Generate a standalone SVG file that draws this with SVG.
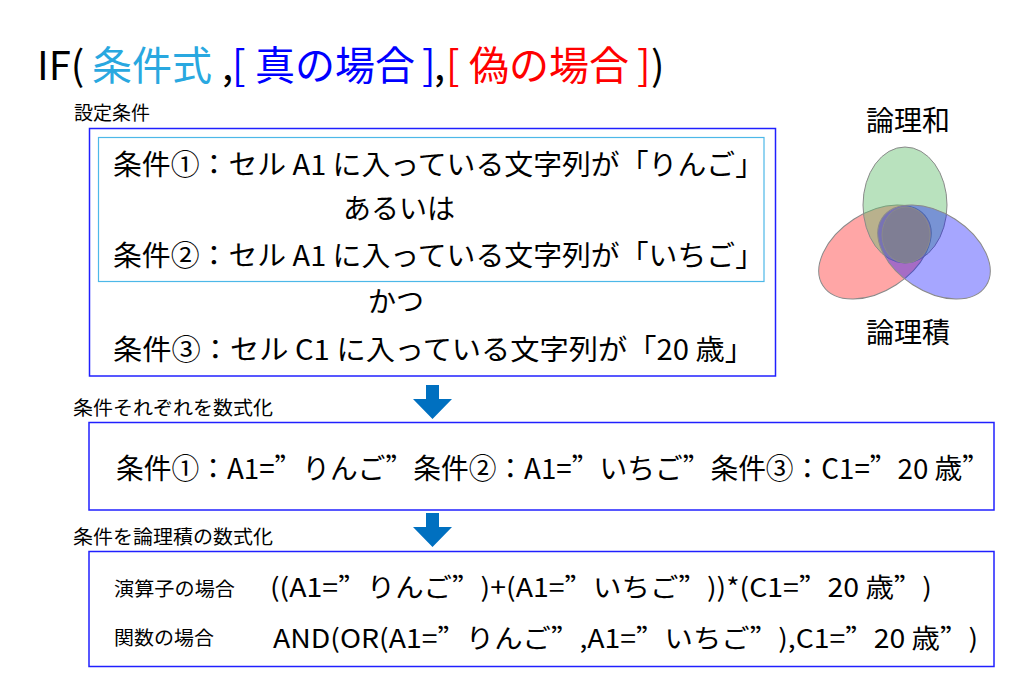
<svg xmlns="http://www.w3.org/2000/svg" width="1024" height="685" viewBox="0 0 1024 685">
<style>
text{font-family:"Noto Sans CJK JP","Noto Sans",sans-serif;fill:#000}
.t{font-size:40px}
.m{font-size:28px}
.s{font-size:19px}
.f{font-size:26px}
.q{font-feature-settings:"fwid" 1}
.box{fill:#fff;stroke:#2020ff;stroke-width:1.5}
.arrow{fill:#0070c0}
.cyan{fill:#29a8e0}
.blue{fill:#0000ff}
.red{fill:#ff0000}
.venn{stroke:#8a8a8a;stroke-width:1}
</style>
<rect width="1024" height="685" fill="#fff"/>
<g id="title">
<text class="t" y="80"><tspan x="37">IF(</tspan><tspan x="92" class="cyan">条件式</tspan><tspan x="222">,</tspan><tspan x="232" class="blue">[</tspan><tspan x="255" class="blue">真の場合</tspan><tspan x="422" class="blue">]</tspan><tspan x="434">,</tspan><tspan x="446" class="red">[</tspan><tspan x="469" class="red">偽の場合</tspan><tspan x="637" class="red">]</tspan><tspan x="651">)</tspan></text>
</g>
<g id="conditions">
<text class="s" x="74" y="120">設定条件</text>
<rect class="box" x="89.5" y="128.5" width="686" height="247.5" stroke="#7a7aff"/>
<rect x="98.5" y="137.5" width="665.5" height="144" fill="none" stroke="#4db8e8" stroke-width="1.2"/>
<text class="m" x="113" y="175" textLength="651" lengthAdjust="spacingAndGlyphs">条件①：セル A1 に入っている文字列が「りんご」</text>
<text class="m" x="343" y="219">あるいは</text>
<text class="m" x="113" y="266" textLength="651" lengthAdjust="spacingAndGlyphs">条件②：セル A1 に入っている文字列が「いちご」</text>
<text class="m" x="368" y="312">かつ</text>
<text class="m" x="113" y="360" textLength="641" lengthAdjust="spacingAndGlyphs">条件③：セル C1 に入っている文字列が「20 歳」</text>
</g>
<g id="venn">
<text class="m" x="866" y="131">論理和</text>
<ellipse class="venn" cx="875" cy="252" rx="62" ry="39" transform="rotate(-33 875 252)" fill="rgb(255,0,0)" fill-opacity="0.35"/>
<ellipse class="venn" cx="905" cy="205" rx="42" ry="58" fill="rgb(100,190,110)" fill-opacity="0.45"/>
<ellipse class="venn" cx="934" cy="252" rx="62" ry="39" transform="rotate(33 934 252)" fill="rgb(0,0,255)" fill-opacity="0.35"/>
<ellipse class="venn" cx="906" cy="235" rx="24" ry="28" fill="#80808e" fill-opacity="0.85"/>
<text class="m" x="866" y="343">論理積</text>
</g>
<g id="formulas">
<text class="s" x="73" y="415" textLength="200" lengthAdjust="spacingAndGlyphs">条件それぞれを数式化</text>
<rect class="box" x="89" y="422.5" width="905" height="87.5"/>
<text class="m" x="116" y="479" textLength="874" lengthAdjust="spacingAndGlyphs">条件①：A1=<tspan class="q">”</tspan>りんご<tspan class="q">”</tspan>条件②：A1=<tspan class="q">”</tspan>いちご<tspan class="q">”</tspan>条件③：C1=<tspan class="q">”</tspan>20 歳<tspan class="q">”</tspan></text>
</g>
<g id="logical">
<text class="s" x="73" y="544" textLength="200" lengthAdjust="spacingAndGlyphs">条件を論理積の数式化</text>
<rect class="box" x="89" y="551.5" width="905" height="115"/>
<text class="s" x="114" y="596" textLength="121" lengthAdjust="spacingAndGlyphs">演算子の場合</text>
<text class="f" x="270" y="597" textLength="662" lengthAdjust="spacingAndGlyphs">((A1=<tspan class="q">”</tspan>りんご<tspan class="q">”</tspan>)+(A1=<tspan class="q">”</tspan>いちご<tspan class="q">”</tspan>))*(C1=<tspan class="q">”</tspan>20 歳<tspan class="q">”</tspan>)</text>
<text class="s" x="114" y="645" textLength="100" lengthAdjust="spacingAndGlyphs">関数の場合</text>
<text class="f" x="273" y="648" textLength="705" lengthAdjust="spacingAndGlyphs">AND(OR(A1=<tspan class="q">”</tspan>りんご<tspan class="q">”</tspan>,A1=<tspan class="q">”</tspan>いちご<tspan class="q">”</tspan>),C1=<tspan class="q">”</tspan>20 歳<tspan class="q">”</tspan>)</text>
</g>
<g id="connectors">
<path class="arrow" d="M426,385 H439 V399 H452 L432.5,419 L413,399 H426 Z"/>
<path class="arrow" d="M426,513 H439 V527 H452 L432.5,547 L413,527 H426 Z"/>
</g>
</svg>
